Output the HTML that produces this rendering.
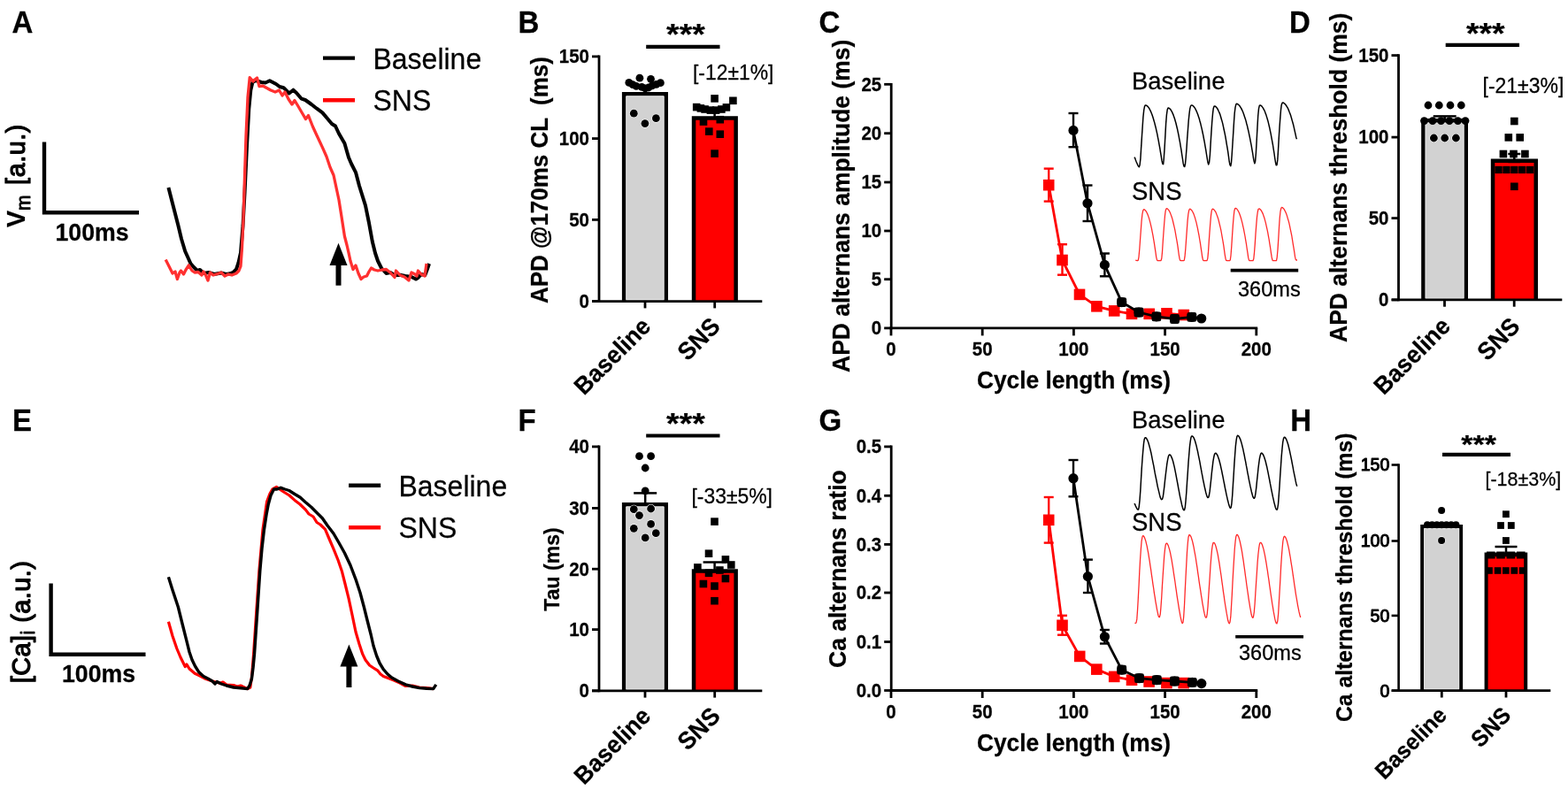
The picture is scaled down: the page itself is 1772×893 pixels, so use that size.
<!DOCTYPE html>
<html lang="en">
<head>
<meta charset="utf-8">
<title>Figure: SNS effects on APD and Ca alternans</title>
<style>
html,body{margin:0;padding:0;background:#fff;}
body{width:1772px;height:893px;overflow:hidden;}
svg{display:block;}
svg text{font-family:"Liberation Sans", sans-serif;fill:#000;stroke:#000;stroke-width:0.25px;stroke-linejoin:round;}
</style>
</head>
<body>
<svg width="1772" height="893" viewBox="0 0 1772 893">
<rect width="1772" height="893" fill="#fff"/>
<text transform="translate(13.5 36.6) scale(1 1.045)" font-size="33" font-weight="bold" text-anchor="start">A</text>
<text transform="translate(585.5 36.6) scale(1 1.045)" font-size="33" font-weight="bold" text-anchor="start">B</text>
<text transform="translate(925.5 36.8) scale(1 1.045)" font-size="33" font-weight="bold" text-anchor="start">C</text>
<text transform="translate(1457 36.6) scale(1 1.045)" font-size="33" font-weight="bold" text-anchor="start">D</text>
<text transform="translate(14 486.6) scale(1 1.045)" font-size="33" font-weight="bold" text-anchor="start">E</text>
<text transform="translate(585.5 486.6) scale(1 1.045)" font-size="33" font-weight="bold" text-anchor="start">F</text>
<text transform="translate(925.5 486.8) scale(1 1.045)" font-size="33" font-weight="bold" text-anchor="start">G</text>
<text transform="translate(1458.3 486.8) scale(1 1.045)" font-size="33" font-weight="bold" text-anchor="start">H</text>
<path d="M50,160.5 V240.2 H157" fill="none" stroke="#000" stroke-width="4.4"/>
<text transform="translate(104 271.5) scale(1 1.035)" font-size="26.7" font-weight="bold" text-anchor="middle">100ms</text>
<text transform="translate(28.4 257) rotate(-90) scale(1 1.035)" font-size="28.6" font-weight="bold">V<tspan font-size="21" dy="5" font-weight="normal" style="stroke-width:1px">m</tspan><tspan dy="-5" dx="3" font-size="28.6" font-weight="normal" letter-spacing="0.6" style="stroke-width:1.25px" xml:space="preserve"> [a.u.)</tspan></text>
<line x1="365" y1="65.6" x2="401" y2="65.6" stroke="#000" stroke-width="4.4" stroke-linecap="butt"/>
<line x1="365" y1="113.3" x2="401" y2="113.3" stroke="#ff0000" stroke-width="4.4" stroke-linecap="butt"/>
<text transform="translate(421.5 77.5) scale(1 1.035)" font-size="32" text-anchor="start">Baseline</text>
<text transform="translate(421.5 125) scale(1 1.045)" font-size="32" text-anchor="start">SNS</text>
<path d="M190.4,212.0 L195.0,230.0 L201.3,254.4 L205.0,270.0 L209.2,284.0 L215.5,298.0 L219.0,302.0 L223.0,306.0 L226.0,305.0 L230.0,309.0 L236.0,308.0 L242.0,310.0 L250.0,308.5 L256.0,310.0 L261.0,309.0 L264.0,307.5 L267.0,304.5 L269.5,297.0 L272.0,285.7 L274.5,255.0 L276.6,216.7 L279.0,165.0 L281.3,122.7 L283.3,102.0 L285.4,93.0 L289.0,91.0 L295.4,93.0 L300.0,93.5 L304.8,91.3 L312.0,95.0 L316.0,98.0 L320.5,99.2 L326.7,105.5 L331.4,101.7 L335.0,105.0 L340.8,111.7 L345.0,113.0 L352.0,118.0 L358.0,122.7 L364.4,127.4 L370.0,134.0 L375.0,140.0 L379.0,142.5 L383.0,151.0 L389.4,162.0 L394.0,178.0 L397.0,185.0 L402.0,194.8 L406.0,210.0 L413.0,232.4 L417.0,252.0 L420.8,273.0 L424.0,286.0 L427.0,295.0 L431.0,303.0 L436.5,309.0 L441.0,308.0 L446.0,311.0 L452.0,310.8 L458.0,312.0 L465.0,313.0 L470.0,315.5 L472.5,314.0 L476.0,310.0 L480.3,311.0 L483.0,304.0 L485.0,298.0" fill="none" stroke="#000" stroke-width="4.0" stroke-linejoin="round" stroke-linecap="butt"/>
<path d="M187.2,293.5 L191.0,301.0 L195.0,309.0 L198.0,307.0 L200.4,315.5 L203.0,308.0 L204.5,306.0 L207.5,310.0 L210.0,305.0 L213.3,299.8 L217.0,306.0 L220.0,308.0 L224.0,307.5 L228.0,311.0 L230.0,307.0 L232.5,311.0 L235.0,317.0 L237.5,308.0 L241.0,311.0 L246.0,309.5 L250.0,308.0 L254.0,312.0 L258.0,310.0 L262.0,311.0 L267.0,309.0 L270.0,306.0 L272.0,301.0 L273.5,280.0 L275.0,248.0 L276.5,200.0 L278.0,154.0 L280.0,110.0 L282.2,87.6 L286.0,92.0 L288.0,90.0 L290.5,88.0 L293.0,97.6 L297.0,97.0 L301.5,99.5 L306.0,102.0 L311.0,104.0 L315.5,102.0 L319.0,108.0 L322.0,104.0 L326.0,112.0 L330.0,118.0 L333.0,113.5 L337.5,121.0 L341.0,127.0 L345.5,134.6 L348.5,130.5 L353.4,143.0 L358.0,153.0 L364.4,166.6 L369.0,177.0 L373.0,189.0 L377.0,198.0 L380.0,212.0 L383.0,226.0 L386.0,245.0 L389.4,267.0 L392.0,277.0 L394.0,285.7 L396.0,295.0 L399.0,304.5 L402.0,300.0 L405.0,309.0 L408.0,315.5 L411.0,313.0 L414.5,312.0 L417.0,307.0 L419.5,303.0 L423.0,305.0 L427.0,306.0 L432.0,305.0 L436.5,304.5 L441.0,308.0 L446.0,313.5 L447.5,306.0 L452.0,311.0 L457.0,313.0 L462.0,317.0 L465.0,308.0 L469.0,310.0 L471.0,312.0 L472.5,306.0 L476.0,310.0 L480.0,312.0 L481.0,305.0 L482.0,298.0" fill="none" stroke="#ff3030" stroke-width="3.3" stroke-linejoin="round" stroke-linecap="butt"/>
<polygon points="382.5,274.7 372.5,300 392.5,300" fill="#000"/>
<rect x="379.5" y="299" width="6" height="23.69999999999999" fill="#000"/>
<path d="M57.6,659.6 V739.7 H164.5" fill="none" stroke="#000" stroke-width="4.4"/>
<text transform="translate(111.5 770.9) scale(1 1.035)" font-size="26.7" font-weight="bold" text-anchor="middle">100ms</text>
<text transform="translate(33.9 772.3) rotate(-90) scale(1 1.01)" font-size="28.8" letter-spacing="0.5" style="stroke-width:1.25px">[Ca]<tspan font-size="21" dy="5" style="stroke-width:1px">i</tspan><tspan dy="-5" xml:space="preserve"> (a.u.)</tspan></text>
<line x1="394.1" y1="548.8" x2="430.2" y2="548.8" stroke="#000" stroke-width="4.4" stroke-linecap="butt"/>
<line x1="394.1" y1="596.2" x2="430.2" y2="596.2" stroke="#ff0000" stroke-width="4.4" stroke-linecap="butt"/>
<text transform="translate(450.5 560.8) scale(1 1.035)" font-size="32" text-anchor="start">Baseline</text>
<text transform="translate(450.5 607.8) scale(1 1.045)" font-size="32" text-anchor="start">SNS</text>
<path d="M190.4,702.7 L195.0,719.0 L199.8,733.0 L204.0,743.0 L209.2,753.5 L211.0,751.0 L214.0,756.0 L220.2,761.3 L226.0,764.0 L232.7,767.6 L240.0,770.0 L248.4,772.3 L252.0,771.0 L256.0,774.0 L264.0,774.5 L268.0,776.0 L272.0,775.0 L279.7,778.6 L282.8,777.0 L284.5,765.0 L286.6,739.4 L289.7,692.4 L292.9,645.4 L297.0,598.4 L301.6,567.0 L305.0,558.0 L308.0,552.9 L312.6,550.4 L316.0,553.0 L320.5,556.0 L327.0,560.0 L333.0,565.4 L339.0,570.0 L345.5,576.4 L349.0,581.0 L354.0,584.0 L358.0,590.5 L362.0,593.0 L367.5,598.4 L372.0,609.0 L376.9,620.3 L382.0,633.0 L386.3,645.4 L390.0,660.0 L394.1,676.7 L398.0,695.0 L402.0,714.3 L406.0,728.0 L409.8,739.4 L413.0,746.0 L417.6,752.0 L422.0,755.0 L427.0,758.2 L430.0,762.0 L433.3,764.5 L440.0,767.0 L445.8,769.2 L452.0,772.0 L458.4,775.5 L466.0,775.0 L474.0,777.0 L482.0,777.5 L489.7,778.6" fill="none" stroke="#ff0000" stroke-width="3.2" stroke-linejoin="round" stroke-linecap="butt"/>
<path d="M190.4,652.3 L195.0,667.0 L201.3,686.0 L206.0,705.0 L210.7,723.7 L214.0,737.0 L217.0,745.7 L220.5,753.0 L224.8,759.8 L230.0,764.5 L235.8,767.6 L240.0,770.0 L243.0,773.0 L245.2,770.5 L250.0,773.0 L256.0,775.0 L264.0,777.0 L272.0,777.8 L279.7,778.6 L282.0,775.0 L284.4,767.6 L286.0,755.0 L287.5,739.4 L290.7,692.4 L293.8,645.4 L296.0,620.0 L298.5,598.4 L301.0,582.0 L303.2,570.2 L306.0,560.0 L309.5,552.9 L313.0,553.0 L317.3,551.3 L322.0,553.0 L326.7,554.5 L333.0,558.5 L339.3,562.3 L345.0,567.5 L351.8,573.3 L358.0,579.5 L364.3,585.8 L370.0,594.0 L376.9,603.0 L383.0,613.5 L389.4,625.0 L396.0,639.0 L402.0,654.8 L407.0,670.0 L411.3,686.0 L415.0,701.0 L419.2,717.5 L422.0,730.0 L425.5,741.0 L429.0,749.5 L433.3,756.6 L438.0,762.0 L442.7,766.0 L450.0,770.0 L458.4,773.9 L466.0,776.0 L474.0,777.6 L482.0,778.3 L489.7,778.6 L492.8,773.9" fill="none" stroke="#000" stroke-width="3.4" stroke-linejoin="round" stroke-linecap="butt"/>
<polygon points="394.4,728.4 384.4,753.5 404.4,753.5" fill="#000"/>
<rect x="391.4" y="752.5" width="6" height="24.5" fill="#000"/>
<path d="M705.15,340.60 V106.15 H752.75 V340.60" fill="#d2d2d2" stroke="#000" stroke-width="4.5" stroke-linejoin="miter"/>
<path d="M707.80,338.80 V108.80 H750.10 V338.80 Z" fill="none" stroke="#ececec" stroke-width="0.9"/>
<path d="M784.05,340.60 V133.55 H831.65 V340.60" fill="#ff0000" stroke="#000" stroke-width="4.5" stroke-linejoin="miter"/>
<line x1="669" y1="340.6" x2="861.3" y2="340.6" stroke="#000" stroke-width="2.8" stroke-linecap="butt"/>
<line x1="677" y1="62.5" x2="677" y2="342.0" stroke="#000" stroke-width="2.8" stroke-linecap="butt"/>
<line x1="669" y1="63.9" x2="677" y2="63.9" stroke="#000" stroke-width="2.8" stroke-linecap="butt"/>
<text transform="translate(666 71.2) scale(1 1.045)" font-size="20.5" font-weight="bold" text-anchor="end">150</text>
<line x1="669" y1="156.6" x2="677" y2="156.6" stroke="#000" stroke-width="2.8" stroke-linecap="butt"/>
<text transform="translate(666 163.9) scale(1 1.045)" font-size="20.5" font-weight="bold" text-anchor="end">100</text>
<line x1="669" y1="248.4" x2="677" y2="248.4" stroke="#000" stroke-width="2.8" stroke-linecap="butt"/>
<text transform="translate(666 255.70000000000002) scale(1 1.045)" font-size="20.5" font-weight="bold" text-anchor="end">50</text>
<line x1="669" y1="340.6" x2="677" y2="340.6" stroke="#000" stroke-width="2.8" stroke-linecap="butt"/>
<text transform="translate(666 347.90000000000003) scale(1 1.045)" font-size="20.5" font-weight="bold" text-anchor="end">0</text>
<line x1="729" y1="340.6" x2="729" y2="348.40000000000003" stroke="#000" stroke-width="2.8" stroke-linecap="butt"/>
<line x1="807.7" y1="340.6" x2="807.7" y2="348.40000000000003" stroke="#000" stroke-width="2.8" stroke-linecap="butt"/>
<text transform="translate(737 370.6) rotate(-45) scale(1 1.035)" font-size="26.5" font-weight="bold" text-anchor="end">Baseline</text>
<text transform="translate(815.5 370.6) rotate(-45) scale(1 1.045)" font-size="26.5" font-weight="bold" text-anchor="end">SNS</text>
<text transform="translate(619 343) rotate(-90) scale(1 1.035)" font-size="26" font-weight="bold" text-anchor="start" xml:space="preserve">APD @170ms CL  (ms)</text>
<text transform="translate(774.9 50.3) scale(1.133 1)" font-size="33" font-weight="bold" text-anchor="middle">***</text>
<line x1="730.2" y1="52.8" x2="813.5" y2="52.8" stroke="#000" stroke-width="4.2" stroke-linecap="butt"/>
<text transform="translate(783 90) scale(1 1.045)" font-size="22.9" text-anchor="start">[-12±1%]</text>
<line x1="729" y1="99.5" x2="729" y2="108" stroke="#000" stroke-width="2.5" stroke-linecap="butt"/>
<line x1="729.0" y1="99.5" x2="729.0" y2="99.5" stroke="#000" stroke-width="2.5" stroke-linecap="butt"/>
<line x1="729.0" y1="108" x2="729.0" y2="108" stroke="#000" stroke-width="2.5" stroke-linecap="butt"/>
<line x1="807.6" y1="127.5" x2="807.6" y2="135" stroke="#000" stroke-width="2.5" stroke-linecap="butt"/>
<line x1="807.6" y1="127.5" x2="807.6" y2="127.5" stroke="#000" stroke-width="2.5" stroke-linecap="butt"/>
<line x1="807.6" y1="135" x2="807.6" y2="135" stroke="#000" stroke-width="2.5" stroke-linecap="butt"/>
<circle cx="710.8" cy="93.4" r="4.4" fill="#000"/>
<circle cx="715.0" cy="95.7" r="4.4" fill="#000"/>
<circle cx="719.0" cy="97.3" r="4.4" fill="#000"/>
<circle cx="722.9" cy="88.2" r="4.4" fill="#000"/>
<circle cx="725.3" cy="98.4" r="4.4" fill="#000"/>
<circle cx="729.2" cy="100.0" r="4.4" fill="#000"/>
<circle cx="733.0" cy="99.0" r="4.4" fill="#000"/>
<circle cx="735.5" cy="89.3" r="4.4" fill="#000"/>
<circle cx="737.0" cy="96.8" r="4.4" fill="#000"/>
<circle cx="741.7" cy="95.3" r="4.4" fill="#000"/>
<circle cx="746.4" cy="93.7" r="4.4" fill="#000"/>
<circle cx="716.3" cy="128.2" r="4.4" fill="#000" stroke="#fff" stroke-width="1.3" paint-order="stroke"/>
<circle cx="728.9" cy="139.6" r="4.4" fill="#000" stroke="#fff" stroke-width="1.3" paint-order="stroke"/>
<circle cx="741.4" cy="133.7" r="4.4" fill="#000" stroke="#fff" stroke-width="1.3" paint-order="stroke"/>
<rect x="803.3" y="107.1" width="8.6" height="8.6" fill="#000"/>
<rect x="824.1" y="109.5" width="8.6" height="8.6" fill="#000"/>
<rect x="782.9" y="116.8" width="8.6" height="8.6" fill="#000"/>
<rect x="787.6" y="118.1" width="8.6" height="8.6" fill="#000"/>
<rect x="792.3" y="119.2" width="8.6" height="8.6" fill="#000"/>
<rect x="798.6" y="120.3" width="8.6" height="8.6" fill="#000"/>
<rect x="804.8" y="120.3" width="8.6" height="8.6" fill="#000"/>
<rect x="811.1" y="119.2" width="8.6" height="8.6" fill="#000"/>
<rect x="816.6" y="117.1" width="8.6" height="8.6" fill="#000"/>
<rect x="790.7" y="133.3" width="8.6" height="8.6" fill="#000"/>
<rect x="809.5" y="130.9" width="8.6" height="8.6" fill="#000"/>
<rect x="797.0" y="144.3" width="8.6" height="8.6" fill="#000"/>
<rect x="809.5" y="147.4" width="8.6" height="8.6" fill="#000"/>
<rect x="803.3" y="169.3" width="8.6" height="8.6" fill="#000"/>
<path d="M705.15,780.80 V570.25 H752.75 V780.80" fill="#d2d2d2" stroke="#000" stroke-width="4.5" stroke-linejoin="miter"/>
<path d="M707.80,779.00 V572.90 H750.10 V779.00 Z" fill="none" stroke="#ececec" stroke-width="0.9"/>
<path d="M784.05,780.80 V645.45 H831.65 V780.80" fill="#ff0000" stroke="#000" stroke-width="4.5" stroke-linejoin="miter"/>
<line x1="669" y1="780.8" x2="861.3" y2="780.8" stroke="#000" stroke-width="2.8" stroke-linecap="butt"/>
<line x1="677" y1="503.5" x2="677" y2="782.1999999999999" stroke="#000" stroke-width="2.8" stroke-linecap="butt"/>
<line x1="669" y1="504.9" x2="677" y2="504.9" stroke="#000" stroke-width="2.8" stroke-linecap="butt"/>
<text transform="translate(666 512.1999999999999) scale(1 1.045)" font-size="20.5" font-weight="bold" text-anchor="end">40</text>
<line x1="669" y1="574.4" x2="677" y2="574.4" stroke="#000" stroke-width="2.8" stroke-linecap="butt"/>
<text transform="translate(666 581.6999999999999) scale(1 1.045)" font-size="20.5" font-weight="bold" text-anchor="end">30</text>
<line x1="669" y1="643.2" x2="677" y2="643.2" stroke="#000" stroke-width="2.8" stroke-linecap="butt"/>
<text transform="translate(666 650.5) scale(1 1.045)" font-size="20.5" font-weight="bold" text-anchor="end">20</text>
<line x1="669" y1="711.6" x2="677" y2="711.6" stroke="#000" stroke-width="2.8" stroke-linecap="butt"/>
<text transform="translate(666 718.9) scale(1 1.045)" font-size="20.5" font-weight="bold" text-anchor="end">10</text>
<line x1="669" y1="780.8" x2="677" y2="780.8" stroke="#000" stroke-width="2.8" stroke-linecap="butt"/>
<text transform="translate(666 788.0999999999999) scale(1 1.045)" font-size="20.5" font-weight="bold" text-anchor="end">0</text>
<line x1="729" y1="780.8" x2="729" y2="788.5999999999999" stroke="#000" stroke-width="2.8" stroke-linecap="butt"/>
<line x1="807.7" y1="780.8" x2="807.7" y2="788.5999999999999" stroke="#000" stroke-width="2.8" stroke-linecap="butt"/>
<text transform="translate(737 811.1) rotate(-45) scale(1 1.035)" font-size="26.5" font-weight="bold" text-anchor="end">Baseline</text>
<text transform="translate(815.5 811.1) rotate(-45) scale(1 1.045)" font-size="26.5" font-weight="bold" text-anchor="end">SNS</text>
<text transform="translate(632.2 690.7) rotate(-90) scale(1 1.035)" font-size="23.1" font-weight="bold" text-anchor="start">Tau (ms)</text>
<text transform="translate(774.9 490) scale(1.133 1)" font-size="33" font-weight="bold" text-anchor="middle">***</text>
<line x1="730.2" y1="492.5" x2="813.5" y2="492.5" stroke="#000" stroke-width="4.2" stroke-linecap="butt"/>
<text transform="translate(781.5 568.5) scale(1 1.045)" font-size="22.9" text-anchor="start">[-33±5%]</text>
<line x1="729.2" y1="557.4" x2="729.2" y2="570" stroke="#000" stroke-width="2.5" stroke-linecap="butt"/>
<line x1="716.2" y1="557.4" x2="742.2" y2="557.4" stroke="#000" stroke-width="2.5" stroke-linecap="butt"/>
<line x1="716.2" y1="570" x2="742.2" y2="570" stroke="#000" stroke-width="2.5" stroke-linecap="butt"/>
<line x1="807.6" y1="635.5" x2="807.6" y2="646" stroke="#000" stroke-width="2.5" stroke-linecap="butt"/>
<line x1="794.6" y1="635.5" x2="820.6" y2="635.5" stroke="#000" stroke-width="2.5" stroke-linecap="butt"/>
<line x1="794.6" y1="646" x2="820.6" y2="646" stroke="#000" stroke-width="2.5" stroke-linecap="butt"/>
<circle cx="722.5" cy="515.7" r="4.4" fill="#000"/>
<circle cx="735.6" cy="515.7" r="4.4" fill="#000"/>
<circle cx="729.2" cy="529.0" r="4.4" fill="#000"/>
<circle cx="729.2" cy="554.8" r="4.4" fill="#000"/>
<circle cx="716.3" cy="575.7" r="4.4" fill="#000" stroke="#fff" stroke-width="1.3" paint-order="stroke"/>
<circle cx="735.6" cy="575.0" r="4.4" fill="#000" stroke="#fff" stroke-width="1.3" paint-order="stroke"/>
<circle cx="722.5" cy="582.6" r="4.4" fill="#000" stroke="#fff" stroke-width="1.3" paint-order="stroke"/>
<circle cx="735.6" cy="592.4" r="4.4" fill="#000" stroke="#fff" stroke-width="1.3" paint-order="stroke"/>
<circle cx="716.3" cy="597.3" r="4.4" fill="#000" stroke="#fff" stroke-width="1.3" paint-order="stroke"/>
<circle cx="741.3" cy="602.7" r="4.4" fill="#000" stroke="#fff" stroke-width="1.3" paint-order="stroke"/>
<circle cx="729.2" cy="607.9" r="4.4" fill="#000" stroke="#fff" stroke-width="1.3" paint-order="stroke"/>
<rect x="803.2" y="585.3" width="8.6" height="8.6" fill="#000"/>
<rect x="796.7" y="621.4" width="8.6" height="8.6" fill="#000"/>
<rect x="815.6" y="628.1" width="8.6" height="8.6" fill="#000"/>
<rect x="822.0" y="634.2" width="8.6" height="8.6" fill="#000"/>
<rect x="784.1" y="637.1" width="8.6" height="8.6" fill="#000"/>
<rect x="809.1" y="640.2" width="8.6" height="8.6" fill="#000"/>
<rect x="796.7" y="643.5" width="8.6" height="8.6" fill="#000"/>
<rect x="815.6" y="649.7" width="8.6" height="8.6" fill="#000"/>
<rect x="790.6" y="655.7" width="8.6" height="8.6" fill="#000"/>
<rect x="803.2" y="658.2" width="8.6" height="8.6" fill="#000"/>
<rect x="803.2" y="674.9" width="8.6" height="8.6" fill="#000"/>
<path d="M1608.45,338.90 V136.25 H1656.75 V338.90" fill="#d2d2d2" stroke="#000" stroke-width="4.5" stroke-linejoin="miter"/>
<path d="M1611.10,337.10 V138.90 H1654.10 V337.10 Z" fill="none" stroke="#ececec" stroke-width="0.9"/>
<path d="M1687.05,338.90 V181.85 H1735.75 V338.90" fill="#ff0000" stroke="#000" stroke-width="4.5" stroke-linejoin="miter"/>
<line x1="1572.7" y1="338.9" x2="1765.3" y2="338.9" stroke="#000" stroke-width="2.8" stroke-linecap="butt"/>
<line x1="1580.5" y1="61.2" x2="1580.5" y2="340.29999999999995" stroke="#000" stroke-width="2.8" stroke-linecap="butt"/>
<line x1="1572.5" y1="62.6" x2="1580.5" y2="62.6" stroke="#000" stroke-width="2.8" stroke-linecap="butt"/>
<text transform="translate(1569.5 69.9) scale(1 1.045)" font-size="20.5" font-weight="bold" text-anchor="end">150</text>
<line x1="1572.5" y1="155.1" x2="1580.5" y2="155.1" stroke="#000" stroke-width="2.8" stroke-linecap="butt"/>
<text transform="translate(1569.5 162.4) scale(1 1.045)" font-size="20.5" font-weight="bold" text-anchor="end">100</text>
<line x1="1572.5" y1="246.6" x2="1580.5" y2="246.6" stroke="#000" stroke-width="2.8" stroke-linecap="butt"/>
<text transform="translate(1569.5 253.9) scale(1 1.045)" font-size="20.5" font-weight="bold" text-anchor="end">50</text>
<line x1="1572.5" y1="338.9" x2="1580.5" y2="338.9" stroke="#000" stroke-width="2.8" stroke-linecap="butt"/>
<text transform="translate(1569.5 346.2) scale(1 1.045)" font-size="20.5" font-weight="bold" text-anchor="end">0</text>
<line x1="1632.5" y1="338.9" x2="1632.5" y2="346.7" stroke="#000" stroke-width="2.8" stroke-linecap="butt"/>
<line x1="1711.2" y1="338.9" x2="1711.2" y2="346.7" stroke="#000" stroke-width="2.8" stroke-linecap="butt"/>
<text transform="translate(1640.7 370.4) rotate(-45) scale(1 1.035)" font-size="26.5" font-weight="bold" text-anchor="end">Baseline</text>
<text transform="translate(1719.2 370.4) rotate(-45) scale(1 1.045)" font-size="26.5" font-weight="bold" text-anchor="end">SNS</text>
<text transform="translate(1522.3 387) rotate(-90) scale(1 1.035)" font-size="26.5" font-weight="bold" text-anchor="start">APD alternans threshold (ms)</text>
<text transform="translate(1678.7 48.5) scale(1.133 1)" font-size="33" font-weight="bold" text-anchor="middle">***</text>
<line x1="1633.7" y1="50.8" x2="1717" y2="50.8" stroke="#000" stroke-width="4.2" stroke-linecap="butt"/>
<text transform="translate(1675.5 105.3) scale(1 1.045)" font-size="23" text-anchor="start">[-21±3%]</text>
<line x1="1632.7" y1="131.4" x2="1632.7" y2="137" stroke="#000" stroke-width="2.5" stroke-linecap="butt"/>
<line x1="1619.7" y1="131.4" x2="1645.7" y2="131.4" stroke="#000" stroke-width="2.5" stroke-linecap="butt"/>
<line x1="1619.7" y1="137" x2="1645.7" y2="137" stroke="#000" stroke-width="2.5" stroke-linecap="butt"/>
<line x1="1711.3" y1="174" x2="1711.3" y2="183" stroke="#000" stroke-width="2.5" stroke-linecap="butt"/>
<line x1="1704.3" y1="174" x2="1718.3" y2="174" stroke="#000" stroke-width="2.5" stroke-linecap="butt"/>
<line x1="1704.3" y1="183" x2="1718.3" y2="183" stroke="#000" stroke-width="2.5" stroke-linecap="butt"/>
<circle cx="1614.0" cy="119.0" r="4.4" fill="#000"/>
<circle cx="1626.3" cy="119.0" r="4.4" fill="#000"/>
<circle cx="1639.0" cy="119.0" r="4.4" fill="#000"/>
<circle cx="1651.3" cy="119.0" r="4.4" fill="#000"/>
<circle cx="1609.5" cy="136.6" r="4.4" fill="#000"/>
<circle cx="1619.0" cy="136.6" r="4.4" fill="#000"/>
<circle cx="1628.5" cy="136.6" r="4.4" fill="#000"/>
<circle cx="1638.0" cy="136.6" r="4.4" fill="#000"/>
<circle cx="1647.5" cy="136.6" r="4.4" fill="#000"/>
<circle cx="1656.0" cy="136.6" r="4.4" fill="#000"/>
<circle cx="1620.4" cy="156.0" r="4.4" fill="#000" stroke="#fff" stroke-width="1.3" paint-order="stroke"/>
<circle cx="1632.7" cy="156.0" r="4.4" fill="#000" stroke="#fff" stroke-width="1.3" paint-order="stroke"/>
<circle cx="1645.4" cy="156.0" r="4.4" fill="#000" stroke="#fff" stroke-width="1.3" paint-order="stroke"/>
<rect x="1707.0" y="132.7" width="8.6" height="8.6" fill="#000"/>
<rect x="1700.5" y="151.1" width="8.6" height="8.6" fill="#000"/>
<rect x="1713.4" y="151.1" width="8.6" height="8.6" fill="#000"/>
<rect x="1694.6" y="169.7" width="8.6" height="8.6" fill="#000"/>
<rect x="1706.2" y="169.7" width="8.6" height="8.6" fill="#000"/>
<rect x="1719.1" y="169.7" width="8.6" height="8.6" fill="#000"/>
<rect x="1707.0" y="206.5" width="8.6" height="8.6" fill="#000"/>
<rect x="1689.4" y="187.8" width="8.3" height="8.3" fill="#000"/>
<rect x="1698.3" y="187.8" width="8.3" height="8.3" fill="#000"/>
<rect x="1707.2" y="187.8" width="8.3" height="8.3" fill="#000"/>
<rect x="1716.1" y="187.8" width="8.3" height="8.3" fill="#000"/>
<rect x="1725.0" y="187.8" width="8.3" height="8.3" fill="#000"/>
<path d="M1607.20,780.70 V595.00 H1651.10 V780.70" fill="#d2d2d2" stroke="#000" stroke-width="4.0" stroke-linejoin="miter"/>
<path d="M1609.60,778.90 V597.40 H1648.70 V778.90 Z" fill="none" stroke="#ececec" stroke-width="0.9"/>
<path d="M1679.60,780.70 V626.40 H1724.20 V780.70" fill="#ff0000" stroke="#000" stroke-width="4.0" stroke-linejoin="miter"/>
<line x1="1572.7" y1="780.7" x2="1752.3" y2="780.7" stroke="#000" stroke-width="2.8" stroke-linecap="butt"/>
<line x1="1580.6" y1="524.2" x2="1580.6" y2="782.0" stroke="#000" stroke-width="2.6" stroke-linecap="butt"/>
<line x1="1572.6" y1="525.5" x2="1580.6" y2="525.5" stroke="#000" stroke-width="2.6" stroke-linecap="butt"/>
<text transform="translate(1570.3999999999999 532.479512195122) scale(1 1.045)" font-size="19.6" text-anchor="end" style="stroke-width:1px">150</text>
<line x1="1572.6" y1="611.5" x2="1580.6" y2="611.5" stroke="#000" stroke-width="2.6" stroke-linecap="butt"/>
<text transform="translate(1570.3999999999999 618.479512195122) scale(1 1.045)" font-size="19.6" text-anchor="end" style="stroke-width:1px">100</text>
<line x1="1572.6" y1="695.9" x2="1580.6" y2="695.9" stroke="#000" stroke-width="2.6" stroke-linecap="butt"/>
<text transform="translate(1570.3999999999999 702.879512195122) scale(1 1.045)" font-size="19.6" text-anchor="end" style="stroke-width:1px">50</text>
<line x1="1572.6" y1="780.7" x2="1580.6" y2="780.7" stroke="#000" stroke-width="2.6" stroke-linecap="butt"/>
<text transform="translate(1570.3999999999999 787.679512195122) scale(1 1.045)" font-size="19.6" text-anchor="end" style="stroke-width:1px">0</text>
<line x1="1629.3" y1="780.7" x2="1629.3" y2="788.5" stroke="#000" stroke-width="2.8" stroke-linecap="butt"/>
<line x1="1702" y1="780.7" x2="1702" y2="788.5" stroke="#000" stroke-width="2.8" stroke-linecap="butt"/>
<text transform="translate(1636.5 810.1) rotate(-45) scale(1 1.035)" font-size="24.8" font-weight="bold" text-anchor="end">Baseline</text>
<text transform="translate(1709 810.1) rotate(-45) scale(1 1.045)" font-size="24.8" font-weight="bold" text-anchor="end">SNS</text>
<text transform="translate(1527.8 816) rotate(-90) scale(1 1.035)" font-size="24.7" font-weight="bold" text-anchor="start">Ca alternans threshold (ms)</text>
<text transform="translate(1671.2 511.7) scale(1.133 1)" font-size="30" font-weight="bold" text-anchor="middle">***</text>
<line x1="1630" y1="513.9" x2="1707" y2="513.9" stroke="#000" stroke-width="4.2" stroke-linecap="butt"/>
<text transform="translate(1678.5 549.2) scale(1 1.045)" font-size="21.5" text-anchor="start">[-18±3%]</text>
<line x1="1702" y1="618" x2="1702" y2="628" stroke="#000" stroke-width="2.5" stroke-linecap="butt"/>
<line x1="1689.5" y1="618" x2="1714.5" y2="618" stroke="#000" stroke-width="2.5" stroke-linecap="butt"/>
<line x1="1689.5" y1="628" x2="1714.5" y2="628" stroke="#000" stroke-width="2.5" stroke-linecap="butt"/>
<circle cx="1629.1" cy="576.9" r="4.0" fill="#000"/>
<circle cx="1613.0" cy="593.3" r="4.0" fill="#000"/>
<circle cx="1618.4" cy="593.3" r="4.0" fill="#000"/>
<circle cx="1623.8" cy="593.3" r="4.0" fill="#000"/>
<circle cx="1629.2" cy="593.3" r="4.0" fill="#000"/>
<circle cx="1634.6" cy="593.3" r="4.0" fill="#000"/>
<circle cx="1640.0" cy="593.3" r="4.0" fill="#000"/>
<circle cx="1645.4" cy="593.3" r="4.0" fill="#000"/>
<circle cx="1629.1" cy="611.0" r="4.0" fill="#000" stroke="#fff" stroke-width="1.3" paint-order="stroke"/>
<rect x="1698.0" y="577.3" width="7.8" height="7.8" fill="#000"/>
<rect x="1692.1" y="590.1" width="7.8" height="7.8" fill="#000"/>
<rect x="1703.9" y="590.1" width="7.8" height="7.8" fill="#000"/>
<rect x="1698.0" y="607.1" width="7.8" height="7.8" fill="#000"/>
<rect x="1680.0" y="623.5" width="9.6" height="8" fill="#000"/>
<rect x="1691.2" y="623.5" width="9.6" height="8" fill="#000"/>
<rect x="1702.6" y="623.5" width="9.6" height="8" fill="#000"/>
<rect x="1714.0" y="623.5" width="9.6" height="8" fill="#000"/>
<rect x="1679.2" y="641.2" width="7.6" height="7.6" fill="#000"/>
<rect x="1688.8" y="641.2" width="7.6" height="7.6" fill="#000"/>
<rect x="1698.0" y="641.2" width="7.6" height="7.6" fill="#000"/>
<rect x="1707.5" y="641.2" width="7.6" height="7.6" fill="#000"/>
<rect x="1716.8" y="641.2" width="7.6" height="7.6" fill="#000"/>
<path d="M1185.2,209.2 L1200.5,294.0 L1220.0,332.9 L1239.4,346.3 L1259.2,351.4 L1279.0,354.8 L1298.7,354.8 L1318.5,354.3 L1337.8,356.0" fill="none" stroke="#ff0000" stroke-width="2.8" stroke-linejoin="round" stroke-linecap="butt"/>
<line x1="1185.2" y1="190.6" x2="1185.2" y2="227.6" stroke="#ff0000" stroke-width="2.4" stroke-linecap="butt"/>
<line x1="1179.7" y1="190.6" x2="1190.7" y2="190.6" stroke="#ff0000" stroke-width="2.4" stroke-linecap="butt"/>
<line x1="1179.7" y1="227.6" x2="1190.7" y2="227.6" stroke="#ff0000" stroke-width="2.4" stroke-linecap="butt"/>
<line x1="1200.5" y1="276.2" x2="1200.5" y2="310.7" stroke="#ff0000" stroke-width="2.4" stroke-linecap="butt"/>
<line x1="1195.0" y1="276.2" x2="1206.0" y2="276.2" stroke="#ff0000" stroke-width="2.4" stroke-linecap="butt"/>
<line x1="1195.0" y1="310.7" x2="1206.0" y2="310.7" stroke="#ff0000" stroke-width="2.4" stroke-linecap="butt"/>
<rect x="1178.9" y="202.9" width="12.6" height="12.6" fill="#ff0000"/>
<rect x="1194.2" y="287.7" width="12.6" height="12.6" fill="#ff0000"/>
<rect x="1213.7" y="326.6" width="12.6" height="12.6" fill="#ff0000"/>
<rect x="1233.1" y="340.0" width="12.6" height="12.6" fill="#ff0000"/>
<rect x="1252.9" y="345.1" width="12.6" height="12.6" fill="#ff0000"/>
<rect x="1272.7" y="348.5" width="12.6" height="12.6" fill="#ff0000"/>
<rect x="1292.4" y="348.5" width="12.6" height="12.6" fill="#ff0000"/>
<rect x="1312.2" y="348.0" width="12.6" height="12.6" fill="#ff0000"/>
<rect x="1331.5" y="349.7" width="12.6" height="12.6" fill="#ff0000"/>
<path d="M1213.0,147.4 L1229.0,229.8 L1248.4,299.4 L1267.7,341.6 L1287.0,353.0 L1306.9,357.9 L1327.5,360.5 L1346.8,358.4 L1357.7,360.0" fill="none" stroke="#000" stroke-width="2.8" stroke-linejoin="round" stroke-linecap="butt"/>
<line x1="1213" y1="128" x2="1213" y2="166.2" stroke="#000" stroke-width="2.4" stroke-linecap="butt"/>
<line x1="1207.5" y1="128" x2="1218.5" y2="128" stroke="#000" stroke-width="2.4" stroke-linecap="butt"/>
<line x1="1207.5" y1="166.2" x2="1218.5" y2="166.2" stroke="#000" stroke-width="2.4" stroke-linecap="butt"/>
<line x1="1229" y1="209.5" x2="1229" y2="250" stroke="#000" stroke-width="2.4" stroke-linecap="butt"/>
<line x1="1223.5" y1="209.5" x2="1234.5" y2="209.5" stroke="#000" stroke-width="2.4" stroke-linecap="butt"/>
<line x1="1223.5" y1="250" x2="1234.5" y2="250" stroke="#000" stroke-width="2.4" stroke-linecap="butt"/>
<line x1="1248.4" y1="286.5" x2="1248.4" y2="312.3" stroke="#000" stroke-width="2.4" stroke-linecap="butt"/>
<line x1="1242.9" y1="286.5" x2="1253.9" y2="286.5" stroke="#000" stroke-width="2.4" stroke-linecap="butt"/>
<line x1="1242.9" y1="312.3" x2="1253.9" y2="312.3" stroke="#000" stroke-width="2.4" stroke-linecap="butt"/>
<circle cx="1213.0" cy="147.4" r="5.6" fill="#000"/>
<circle cx="1229.0" cy="229.8" r="5.6" fill="#000"/>
<circle cx="1248.4" cy="299.4" r="5.6" fill="#000"/>
<circle cx="1267.7" cy="341.6" r="5.6" fill="#000"/>
<circle cx="1287.0" cy="353.0" r="5.6" fill="#000"/>
<circle cx="1306.9" cy="357.9" r="5.6" fill="#000"/>
<circle cx="1327.5" cy="360.5" r="5.6" fill="#000"/>
<circle cx="1346.8" cy="358.4" r="5.6" fill="#000"/>
<circle cx="1357.7" cy="360.0" r="5.6" fill="#000"/>
<rect x="1262.3" y="336.2" width="10.8" height="10.8" rx="2.2" fill="#000"/>
<rect x="1281.6" y="347.6" width="10.8" height="10.8" rx="2.2" fill="#000"/>
<rect x="1301.5" y="352.5" width="10.8" height="10.8" rx="2.2" fill="#000"/>
<rect x="1322.1" y="355.1" width="10.8" height="10.8" rx="2.2" fill="#000"/>
<rect x="1341.4" y="353.0" width="10.8" height="10.8" rx="2.2" fill="#000"/>
<line x1="1007.2" y1="93.89999999999999" x2="1007.2" y2="372.29999999999995" stroke="#000" stroke-width="2.8" stroke-linecap="butt"/>
<line x1="999.2" y1="95.3" x2="1007.2" y2="95.3" stroke="#000" stroke-width="2.8" stroke-linecap="butt"/>
<text transform="translate(996.2 102.6) scale(1 1.045)" font-size="20.5" font-weight="bold" text-anchor="end">25</text>
<line x1="999.2" y1="150.7" x2="1007.2" y2="150.7" stroke="#000" stroke-width="2.8" stroke-linecap="butt"/>
<text transform="translate(996.2 158.0) scale(1 1.045)" font-size="20.5" font-weight="bold" text-anchor="end">20</text>
<line x1="999.2" y1="206" x2="1007.2" y2="206" stroke="#000" stroke-width="2.8" stroke-linecap="butt"/>
<text transform="translate(996.2 213.3) scale(1 1.045)" font-size="20.5" font-weight="bold" text-anchor="end">15</text>
<line x1="999.2" y1="261" x2="1007.2" y2="261" stroke="#000" stroke-width="2.8" stroke-linecap="butt"/>
<text transform="translate(996.2 268.3) scale(1 1.045)" font-size="20.5" font-weight="bold" text-anchor="end">10</text>
<line x1="999.2" y1="315.7" x2="1007.2" y2="315.7" stroke="#000" stroke-width="2.8" stroke-linecap="butt"/>
<text transform="translate(996.2 323.0) scale(1 1.045)" font-size="20.5" font-weight="bold" text-anchor="end">5</text>
<line x1="999.2" y1="370.9" x2="1007.2" y2="370.9" stroke="#000" stroke-width="2.8" stroke-linecap="butt"/>
<text transform="translate(996.2 378.2) scale(1 1.045)" font-size="20.5" font-weight="bold" text-anchor="end">0</text>
<line x1="1005.6" y1="370.9" x2="1421.2" y2="370.9" stroke="#000" stroke-width="2.8" stroke-linecap="butt"/>
<line x1="1007.0" y1="370.9" x2="1007.0" y2="379.4" stroke="#000" stroke-width="2.8" stroke-linecap="butt"/>
<text transform="translate(1007.0 402.4) scale(1 1.045)" font-size="20.5" font-weight="bold" text-anchor="middle">0</text>
<line x1="1110.2" y1="370.9" x2="1110.2" y2="379.4" stroke="#000" stroke-width="2.8" stroke-linecap="butt"/>
<text transform="translate(1110.2 402.4) scale(1 1.045)" font-size="20.5" font-weight="bold" text-anchor="middle">50</text>
<line x1="1213.4" y1="370.9" x2="1213.4" y2="379.4" stroke="#000" stroke-width="2.8" stroke-linecap="butt"/>
<text transform="translate(1213.4 402.4) scale(1 1.045)" font-size="20.5" font-weight="bold" text-anchor="middle">100</text>
<line x1="1316.6" y1="370.9" x2="1316.6" y2="379.4" stroke="#000" stroke-width="2.8" stroke-linecap="butt"/>
<text transform="translate(1316.6 402.4) scale(1 1.045)" font-size="20.5" font-weight="bold" text-anchor="middle">150</text>
<line x1="1419.8" y1="370.9" x2="1419.8" y2="379.4" stroke="#000" stroke-width="2.8" stroke-linecap="butt"/>
<text transform="translate(1419.8 402.4) scale(1 1.045)" font-size="20.5" font-weight="bold" text-anchor="middle">200</text>
<text transform="translate(1213.5 438.6) scale(1 1.035)" font-size="26.3" font-weight="bold" text-anchor="middle">Cycle length (ms)</text>
<text transform="translate(960.3 420.9) rotate(-90) scale(1 1.035)" font-size="26.45" font-weight="bold" text-anchor="start">APD alternans amplitude (ms)</text>
<text transform="translate(1279 100.5) scale(1 1.035)" font-size="27.5" text-anchor="start">Baseline</text>
<text transform="translate(1279 226.2) scale(1 1.045)" font-size="27.5" text-anchor="start">SNS</text>
<line x1="1390.7" y1="305.6" x2="1467.2" y2="305.6" stroke="#000" stroke-width="3.6" stroke-linecap="butt"/>
<text transform="translate(1434.3 335.1) scale(1 1.035)" font-size="23.6" text-anchor="middle">360ms</text>
<path d="M1185.2,587.8 L1200.5,706.8 L1220.2,741.9 L1239.3,756.6 L1259.2,764.9 L1279.0,768.7 L1298.6,770.5 L1318.4,772.1 L1337.7,772.1" fill="none" stroke="#ff0000" stroke-width="2.8" stroke-linejoin="round" stroke-linecap="butt"/>
<line x1="1185.2" y1="562" x2="1185.2" y2="613.6" stroke="#ff0000" stroke-width="2.4" stroke-linecap="butt"/>
<line x1="1179.7" y1="562" x2="1190.7" y2="562" stroke="#ff0000" stroke-width="2.4" stroke-linecap="butt"/>
<line x1="1179.7" y1="613.6" x2="1190.7" y2="613.6" stroke="#ff0000" stroke-width="2.4" stroke-linecap="butt"/>
<line x1="1200.5" y1="695.8" x2="1200.5" y2="717.7" stroke="#ff0000" stroke-width="2.4" stroke-linecap="butt"/>
<line x1="1195.0" y1="695.8" x2="1206.0" y2="695.8" stroke="#ff0000" stroke-width="2.4" stroke-linecap="butt"/>
<line x1="1195.0" y1="717.7" x2="1206.0" y2="717.7" stroke="#ff0000" stroke-width="2.4" stroke-linecap="butt"/>
<rect x="1178.9" y="581.5" width="12.6" height="12.6" fill="#ff0000"/>
<rect x="1194.2" y="700.5" width="12.6" height="12.6" fill="#ff0000"/>
<rect x="1213.9" y="735.6" width="12.6" height="12.6" fill="#ff0000"/>
<rect x="1233.0" y="750.3" width="12.6" height="12.6" fill="#ff0000"/>
<rect x="1252.9" y="758.6" width="12.6" height="12.6" fill="#ff0000"/>
<rect x="1272.7" y="762.4" width="12.6" height="12.6" fill="#ff0000"/>
<rect x="1292.3" y="764.2" width="12.6" height="12.6" fill="#ff0000"/>
<rect x="1312.1" y="765.8" width="12.6" height="12.6" fill="#ff0000"/>
<rect x="1331.4" y="765.8" width="12.6" height="12.6" fill="#ff0000"/>
<path d="M1213.0,540.7 L1229.4,651.6 L1248.4,719.8 L1267.7,757.1 L1287.5,766.7 L1307.3,768.7 L1327.4,770.0 L1347.3,771.3 L1357.8,772.6" fill="none" stroke="#000" stroke-width="2.8" stroke-linejoin="round" stroke-linecap="butt"/>
<line x1="1213" y1="520" x2="1213" y2="561.3" stroke="#000" stroke-width="2.4" stroke-linecap="butt"/>
<line x1="1207.5" y1="520" x2="1218.5" y2="520" stroke="#000" stroke-width="2.4" stroke-linecap="butt"/>
<line x1="1207.5" y1="561.3" x2="1218.5" y2="561.3" stroke="#000" stroke-width="2.4" stroke-linecap="butt"/>
<line x1="1229.4" y1="632.6" x2="1229.4" y2="670" stroke="#000" stroke-width="2.4" stroke-linecap="butt"/>
<line x1="1223.9" y1="632.6" x2="1234.9" y2="632.6" stroke="#000" stroke-width="2.4" stroke-linecap="butt"/>
<line x1="1223.9" y1="670" x2="1234.9" y2="670" stroke="#000" stroke-width="2.4" stroke-linecap="butt"/>
<line x1="1248.4" y1="712" x2="1248.4" y2="727.5" stroke="#000" stroke-width="2.4" stroke-linecap="butt"/>
<line x1="1242.9" y1="712" x2="1253.9" y2="712" stroke="#000" stroke-width="2.4" stroke-linecap="butt"/>
<line x1="1242.9" y1="727.5" x2="1253.9" y2="727.5" stroke="#000" stroke-width="2.4" stroke-linecap="butt"/>
<circle cx="1213.0" cy="540.7" r="5.6" fill="#000"/>
<circle cx="1229.4" cy="651.6" r="5.6" fill="#000"/>
<circle cx="1248.4" cy="719.8" r="5.6" fill="#000"/>
<circle cx="1267.7" cy="757.1" r="5.6" fill="#000"/>
<circle cx="1287.5" cy="766.7" r="5.6" fill="#000"/>
<circle cx="1307.3" cy="768.7" r="5.6" fill="#000"/>
<circle cx="1327.4" cy="770.0" r="5.6" fill="#000"/>
<circle cx="1347.3" cy="771.3" r="5.6" fill="#000"/>
<circle cx="1357.8" cy="772.6" r="5.6" fill="#000"/>
<rect x="1262.3" y="751.7" width="10.8" height="10.8" rx="2.2" fill="#000"/>
<rect x="1282.1" y="761.3" width="10.8" height="10.8" rx="2.2" fill="#000"/>
<rect x="1301.9" y="763.3" width="10.8" height="10.8" rx="2.2" fill="#000"/>
<rect x="1322.0" y="764.6" width="10.8" height="10.8" rx="2.2" fill="#000"/>
<rect x="1341.9" y="765.9" width="10.8" height="10.8" rx="2.2" fill="#000"/>
<line x1="1007.2" y1="503.5" x2="1007.2" y2="781.9" stroke="#000" stroke-width="2.8" stroke-linecap="butt"/>
<line x1="999.2" y1="504.9" x2="1007.2" y2="504.9" stroke="#000" stroke-width="2.8" stroke-linecap="butt"/>
<text transform="translate(996.2 512.1999999999999) scale(1 1.045)" font-size="20.5" font-weight="bold" text-anchor="end">0.5</text>
<line x1="999.2" y1="560.3" x2="1007.2" y2="560.3" stroke="#000" stroke-width="2.8" stroke-linecap="butt"/>
<text transform="translate(996.2 567.5999999999999) scale(1 1.045)" font-size="20.5" font-weight="bold" text-anchor="end">0.4</text>
<line x1="999.2" y1="615.4" x2="1007.2" y2="615.4" stroke="#000" stroke-width="2.8" stroke-linecap="butt"/>
<text transform="translate(996.2 622.6999999999999) scale(1 1.045)" font-size="20.5" font-weight="bold" text-anchor="end">0.3</text>
<line x1="999.2" y1="670" x2="1007.2" y2="670" stroke="#000" stroke-width="2.8" stroke-linecap="butt"/>
<text transform="translate(996.2 677.3) scale(1 1.045)" font-size="20.5" font-weight="bold" text-anchor="end">0.2</text>
<line x1="999.2" y1="725.5" x2="1007.2" y2="725.5" stroke="#000" stroke-width="2.8" stroke-linecap="butt"/>
<text transform="translate(996.2 732.8) scale(1 1.045)" font-size="20.5" font-weight="bold" text-anchor="end">0.1</text>
<line x1="999.2" y1="780.5" x2="1007.2" y2="780.5" stroke="#000" stroke-width="2.8" stroke-linecap="butt"/>
<text transform="translate(996.2 787.8) scale(1 1.045)" font-size="20.5" font-weight="bold" text-anchor="end">0.0</text>
<line x1="1005.6" y1="780.5" x2="1421.2" y2="780.5" stroke="#000" stroke-width="2.8" stroke-linecap="butt"/>
<line x1="1007.0" y1="780.5" x2="1007.0" y2="789.0" stroke="#000" stroke-width="2.8" stroke-linecap="butt"/>
<text transform="translate(1007.0 812.0) scale(1 1.045)" font-size="20.5" font-weight="bold" text-anchor="middle">0</text>
<line x1="1110.2" y1="780.5" x2="1110.2" y2="789.0" stroke="#000" stroke-width="2.8" stroke-linecap="butt"/>
<text transform="translate(1110.2 812.0) scale(1 1.045)" font-size="20.5" font-weight="bold" text-anchor="middle">50</text>
<line x1="1213.4" y1="780.5" x2="1213.4" y2="789.0" stroke="#000" stroke-width="2.8" stroke-linecap="butt"/>
<text transform="translate(1213.4 812.0) scale(1 1.045)" font-size="20.5" font-weight="bold" text-anchor="middle">100</text>
<line x1="1316.6" y1="780.5" x2="1316.6" y2="789.0" stroke="#000" stroke-width="2.8" stroke-linecap="butt"/>
<text transform="translate(1316.6 812.0) scale(1 1.045)" font-size="20.5" font-weight="bold" text-anchor="middle">150</text>
<line x1="1419.8" y1="780.5" x2="1419.8" y2="789.0" stroke="#000" stroke-width="2.8" stroke-linecap="butt"/>
<text transform="translate(1419.8 812.0) scale(1 1.045)" font-size="20.5" font-weight="bold" text-anchor="middle">200</text>
<text transform="translate(1213.5 848.7) scale(1 1.035)" font-size="26.3" font-weight="bold" text-anchor="middle">Cycle length (ms)</text>
<text transform="translate(955.5 755) rotate(-90) scale(1 1.035)" font-size="26.5" font-weight="bold" text-anchor="start">Ca alternans ratio</text>
<text transform="translate(1279 484.3) scale(1 1.035)" font-size="27.5" text-anchor="start">Baseline</text>
<text transform="translate(1279 600.2) scale(1 1.045)" font-size="27.5" text-anchor="start">SNS</text>
<line x1="1396.2" y1="719.8" x2="1473" y2="719.8" stroke="#000" stroke-width="3.6" stroke-linecap="butt"/>
<text transform="translate(1435.3 746.2) scale(1 1.035)" font-size="23.6" text-anchor="middle">360ms</text>
<path d="M1281.9,177.6 1282.7,178.8 1283.4,181.0 1284.2,183.0 1285.0,184.8 1285.8,186.6 1286.5,188.0 1287.3,188.7 1288.1,186.5 1288.9,179.3 1289.6,167.6 1290.4,154.8 1291.2,142.7 1291.9,132.3 1292.7,124.7 1293.5,120.4 1294.3,118.9 1295.0,118.9 1295.8,119.3 1296.5,119.8 1297.3,120.6 1298.0,121.5 1298.8,122.7 1299.5,124.0 1300.3,125.6 1301.0,127.3 1301.8,129.2 1302.5,131.3 1303.3,133.7 1304.0,136.2 1304.8,138.9 1305.5,141.8 1306.3,144.9 1307.0,148.2 1307.8,151.7 1308.5,155.4 1309.3,159.3 1310.0,163.4 1310.8,167.7 1311.5,172.1 1312.3,176.8 1313.0,181.7 1313.8,185.2 1314.6,185.6 1315.3,179.3 1316.1,167.1 1316.9,152.9 1317.6,139.9 1318.4,129.9 1319.2,124.1 1320.0,122.1 1320.7,122.1 1321.5,122.5 1322.2,123.1 1323.0,124.0 1323.7,125.2 1324.5,126.5 1325.2,128.1 1326.0,129.9 1326.7,132.0 1327.5,134.3 1328.2,136.8 1329.0,139.5 1329.7,142.5 1330.5,145.7 1331.2,149.2 1332.0,152.9 1332.7,156.8 1333.5,160.9 1334.2,165.3 1335.0,169.9 1335.7,174.8 1336.5,179.9 1337.2,184.9 1338.0,188.0 1338.7,188.5 1339.5,185.3 1340.2,177.8 1341.0,167.5 1341.7,156.6 1342.5,146.0 1343.2,136.5 1344.0,128.7 1344.7,123.1 1345.5,119.9 1346.3,118.9 1347.0,118.9 1347.8,119.3 1348.5,119.9 1349.3,120.7 1350.0,121.7 1350.8,122.9 1351.5,124.3 1352.3,125.9 1353.0,127.7 1353.8,129.7 1354.5,131.9 1355.3,134.3 1356.0,137.0 1356.8,139.8 1357.5,142.8 1358.3,146.1 1359.0,149.5 1359.8,153.2 1360.5,157.0 1361.3,161.1 1362.0,165.4 1362.8,169.9 1363.5,174.5 1364.3,179.4 1365.0,183.7 1365.8,185.9 1366.6,183.2 1367.4,175.1 1368.1,162.7 1368.9,149.8 1369.7,138.0 1370.5,128.7 1371.2,122.8 1372.0,120.3 1372.8,120.0 1373.5,120.3 1374.2,120.9 1375.0,121.7 1375.8,122.8 1376.5,124.1 1377.2,125.7 1378.0,127.4 1378.8,129.4 1379.5,131.7 1380.2,134.2 1381.0,136.9 1381.8,139.9 1382.5,143.1 1383.2,146.5 1384.0,150.2 1384.8,154.1 1385.5,158.2 1386.2,162.6 1387.0,167.2 1387.8,172.1 1388.5,177.2 1389.2,182.5 1390.0,186.4 1390.8,187.7 1391.5,183.9 1392.2,174.8 1393.0,162.3 1393.8,149.4 1394.5,137.7 1395.2,128.0 1396.0,121.4 1396.8,118.1 1397.5,117.3 1398.3,117.5 1399.0,117.9 1399.8,118.5 1400.5,119.2 1401.3,120.2 1402.0,121.3 1402.8,122.6 1403.5,124.1 1404.3,125.8 1405.0,127.6 1405.8,129.7 1406.5,131.9 1407.3,134.3 1408.1,136.9 1408.8,139.7 1409.6,142.6 1410.3,145.8 1411.1,149.1 1411.8,152.6 1412.6,156.3 1413.3,160.2 1414.1,164.2 1414.8,168.4 1415.6,172.9 1416.3,177.5 1417.1,182.0 1417.9,184.8 1418.6,182.4 1419.4,173.0 1420.2,158.3 1421.0,143.4 1421.7,131.0 1422.5,122.9 1423.3,119.4 1424.1,118.9 1424.8,119.2 1425.6,119.8 1426.3,120.6 1427.1,121.6 1427.8,122.8 1428.6,124.3 1429.4,126.0 1430.1,127.9 1430.9,130.1 1431.6,132.4 1432.4,135.0 1433.2,137.9 1433.9,140.9 1434.7,144.2 1435.4,147.7 1436.2,151.4 1436.9,155.4 1437.7,159.6 1438.5,164.0 1439.2,168.6 1440.0,173.5 1440.7,178.6 1441.5,183.6 1442.2,186.7 1443.0,186.5 1443.8,180.9 1444.5,170.1 1445.2,157.1 1446.0,144.3 1446.8,133.1 1447.5,124.3 1448.2,118.7 1449.0,116.4 1449.8,116.0 1450.5,116.3 1451.2,116.7 1452.0,117.4 1452.8,118.2 1453.5,119.2 1454.2,120.3 1455.0,121.7 1455.8,123.2 1456.5,124.9 1457.2,126.8 1458.0,128.8 1458.8,131.1 1459.5,133.5 1460.2,136.1 1461.0,138.8 1461.8,141.8 1462.5,144.9 1463.2,148.2 1464.0,151.7 1464.8,155.4 1465.5,157.3 1465.5,157.3" fill="none" stroke="#000" stroke-width="1.5" stroke-linejoin="round"/>
<path d="M1283.2,294.2 1284.0,294.3 1284.7,294.5 1285.5,294.6 1286.3,294.2 1287.0,290.3 1287.8,281.5 1288.6,270.3 1289.4,259.2 1290.1,249.5 1290.9,242.2 1291.7,238.1 1292.5,236.7 1293.2,236.8 1294.0,237.4 1294.7,238.2 1295.5,239.3 1296.2,240.7 1297.0,242.4 1297.7,244.4 1298.5,246.6 1299.2,249.2 1300.0,252.1 1300.7,255.2 1301.5,258.7 1302.2,262.4 1303.0,266.4 1303.7,270.7 1304.5,275.3 1305.2,280.2 1306.0,285.4 1306.7,290.6 1307.5,293.8 1308.2,294.7 1309.0,294.7 1309.7,294.7 1310.5,294.7 1311.2,294.7 1312.0,294.6 1312.8,292.0 1313.5,284.8 1314.2,273.7 1315.0,262.2 1315.8,251.8 1316.5,243.5 1317.2,238.2 1318.0,235.9 1318.8,235.7 1319.5,236.1 1320.2,236.9 1321.0,237.9 1321.8,239.2 1322.5,240.7 1323.2,242.6 1324.0,244.8 1324.8,247.2 1325.5,250.0 1326.2,253.0 1327.0,256.3 1327.8,259.9 1328.5,263.8 1329.2,268.0 1330.0,272.4 1330.8,277.2 1331.5,282.2 1332.2,287.5 1333.0,292.2 1333.8,294.5 1334.5,294.7 1335.2,294.7 1336.0,294.7 1336.8,294.7 1337.5,294.7 1338.3,294.2 1339.0,290.2 1339.8,281.4 1340.6,270.1 1341.4,258.9 1342.1,249.1 1342.9,241.8 1343.7,237.6 1344.5,236.2 1345.2,236.3 1346.0,236.9 1346.7,237.7 1347.5,238.8 1348.2,240.2 1349.0,241.9 1349.7,243.9 1350.5,246.2 1351.2,248.8 1352.0,251.7 1352.7,254.9 1353.5,258.3 1354.2,262.1 1355.0,266.2 1355.7,270.5 1356.5,275.1 1357.2,280.1 1358.0,285.3 1358.7,290.5 1359.5,293.8 1360.2,294.7 1361.0,294.7 1361.7,294.7 1362.5,294.7 1363.2,294.7 1364.0,294.6 1364.8,292.1 1365.5,284.9 1366.2,273.9 1367.0,262.5 1367.8,252.1 1368.5,243.9 1369.2,238.6 1370.0,236.4 1370.8,236.2 1371.5,236.6 1372.2,237.3 1373.0,238.3 1373.8,239.6 1374.5,241.2 1375.2,243.1 1376.0,245.2 1376.8,247.6 1377.5,250.3 1378.2,253.3 1379.0,256.6 1379.8,260.2 1380.5,264.0 1381.2,268.2 1382.0,272.6 1382.8,277.3 1383.5,282.3 1384.2,287.6 1385.0,292.2 1385.8,294.5 1386.5,294.7 1387.2,294.7 1388.0,294.7 1388.8,294.7 1389.5,294.7 1390.3,293.9 1391.0,288.8 1391.8,278.4 1392.6,265.9 1393.4,254.1 1394.2,244.5 1394.9,238.3 1395.7,235.7 1396.5,235.4 1397.2,235.8 1398.0,236.5 1398.7,237.5 1399.5,238.8 1400.2,240.3 1401.0,242.2 1401.7,244.3 1402.5,246.7 1403.2,249.4 1404.0,252.3 1404.7,255.6 1405.5,259.1 1406.2,262.9 1407.0,267.0 1407.7,271.4 1408.5,276.0 1409.2,281.0 1410.0,286.2 1410.7,291.2 1411.5,294.1 1412.2,294.7 1413.0,294.7 1413.7,294.7 1414.5,294.7 1415.2,294.7 1416.0,294.7 1416.8,292.5 1417.5,285.8 1418.3,275.4 1419.0,264.3 1419.8,253.9 1420.5,245.4 1421.3,239.5 1422.0,236.5 1422.8,235.9 1423.6,236.2 1424.3,236.8 1425.1,237.7 1425.8,238.9 1426.6,240.4 1427.4,242.1 1428.1,244.2 1428.9,246.5 1429.6,249.2 1430.4,252.1 1431.1,255.3 1431.9,258.8 1432.7,262.6 1433.4,266.6 1434.2,271.0 1434.9,275.6 1435.7,280.5 1436.4,285.7 1437.2,290.9 1438.0,294.0 1438.7,294.7 1439.5,294.7 1440.2,294.7 1441.0,294.7 1441.7,294.7 1442.5,294.5 1443.2,291.0 1444.0,282.1 1444.8,269.6 1445.5,257.2 1446.2,246.6 1447.0,239.0 1447.8,235.3 1448.5,234.4 1449.2,234.6 1450.0,235.2 1450.8,236.0 1451.5,237.1 1452.2,238.5 1453.0,240.1 1453.8,242.0 1454.5,244.1 1455.2,246.6 1456.0,249.2 1456.8,252.2 1457.5,255.4 1458.2,258.8 1459.0,262.6 1459.8,266.5 1460.5,270.8 1461.2,275.3 1462.0,280.1 1462.8,285.1 1463.5,290.2 1464.2,293.2 1465.0,294.0 1465.8,294.0 1466.0,294.0" fill="none" stroke="#ff2a2a" stroke-width="1.3" stroke-linejoin="round"/>
<path d="M1281.9,569.1 1282.7,570.2 1283.4,572.1 1284.2,573.7 1285.0,575.2 1285.8,576.1 1286.5,576.1 1287.2,573.1 1288.0,565.6 1288.8,554.6 1289.5,542.4 1290.2,530.1 1291.0,518.7 1291.8,508.9 1292.5,501.4 1293.2,496.6 1294.0,494.7 1294.8,494.7 1295.5,495.4 1296.2,496.6 1297.0,498.2 1297.8,500.3 1298.5,502.7 1299.2,505.4 1300.0,508.4 1300.8,511.7 1301.5,515.2 1302.2,518.9 1303.0,522.8 1303.8,526.7 1304.5,530.7 1305.2,534.7 1306.0,538.6 1306.8,542.4 1307.5,546.2 1308.2,549.8 1309.0,553.2 1309.8,556.4 1310.5,559.4 1311.2,562.1 1312.0,564.0 1312.8,564.7 1313.5,564.2 1314.3,561.6 1315.0,556.6 1315.8,550.2 1316.5,543.4 1317.3,536.5 1318.1,530.0 1318.8,524.3 1319.6,519.6 1320.3,516.3 1321.1,514.4 1321.9,513.9 1322.6,514.4 1323.4,515.5 1324.1,517.1 1324.9,519.1 1325.7,521.7 1326.4,524.6 1327.2,527.9 1327.9,531.4 1328.7,535.3 1329.4,539.2 1330.2,543.3 1331.0,547.5 1331.7,551.6 1332.5,555.6 1333.2,559.6 1334.0,563.3 1334.8,566.9 1335.5,570.2 1336.3,573.2 1337.0,575.5 1337.8,576.7 1338.5,576.5 1339.3,573.5 1340.0,566.5 1340.8,556.5 1341.5,545.4 1342.3,533.9 1343.0,522.9 1343.8,513.0 1344.5,504.6 1345.3,498.3 1346.0,494.4 1346.8,492.9 1347.6,492.9 1348.3,493.7 1349.1,494.9 1349.8,496.6 1350.6,498.8 1351.3,501.3 1352.1,504.1 1352.8,507.3 1353.6,510.7 1354.3,514.4 1355.1,518.2 1355.9,522.2 1356.6,526.2 1357.4,530.3 1358.1,534.4 1358.9,538.4 1359.6,542.3 1360.4,546.0 1361.1,549.6 1361.9,553.0 1362.6,556.2 1363.4,559.1 1364.1,561.4 1364.9,562.5 1365.7,562.3 1366.4,560.1 1367.2,555.2 1367.9,548.7 1368.7,541.5 1369.4,534.3 1370.2,527.6 1370.9,521.7 1371.7,517.0 1372.4,513.9 1373.2,512.4 1373.9,512.2 1374.7,512.8 1375.4,513.9 1376.2,515.4 1376.9,517.4 1377.7,519.8 1378.4,522.5 1379.2,525.5 1379.9,528.8 1380.7,532.3 1381.4,536.0 1382.2,539.8 1382.9,543.6 1383.7,547.5 1384.4,551.3 1385.2,555.0 1385.9,558.6 1386.7,562.1 1387.4,565.3 1388.2,568.4 1388.9,571.1 1389.7,573.3 1390.4,574.4 1391.2,573.7 1391.9,569.3 1392.7,560.3 1393.4,548.7 1394.2,536.3 1394.9,524.1 1395.7,513.0 1396.4,503.8 1397.2,497.2 1397.9,493.4 1398.7,492.3 1399.4,492.6 1400.2,493.5 1400.9,494.9 1401.7,496.6 1402.4,498.8 1403.2,501.4 1403.9,504.2 1404.7,507.4 1405.4,510.8 1406.2,514.5 1406.9,518.3 1407.7,522.2 1408.4,526.2 1409.2,530.2 1409.9,534.3 1410.7,538.2 1411.4,542.1 1412.2,545.9 1412.9,549.4 1413.7,552.8 1414.4,556.0 1415.2,559.0 1415.9,561.6 1416.7,563.0 1417.4,563.3 1418.2,561.9 1418.9,557.8 1419.7,551.6 1420.4,544.4 1421.2,537.1 1421.9,530.0 1422.7,523.7 1423.4,518.5 1424.2,514.8 1424.9,512.7 1425.7,512.1 1426.4,512.5 1427.2,513.4 1427.9,514.9 1428.7,516.7 1429.4,518.9 1430.2,521.5 1430.9,524.5 1431.7,527.7 1432.4,531.2 1433.2,534.8 1433.9,538.6 1434.7,542.5 1435.4,546.4 1436.2,550.3 1436.9,554.1 1437.7,557.8 1438.4,561.4 1439.2,564.9 1439.9,568.1 1440.7,571.0 1441.4,573.8 1442.2,575.6 1443.0,576.3 1443.7,575.0 1444.5,570.1 1445.2,560.9 1446.0,549.8 1446.7,538.1 1447.5,526.5 1448.2,515.9 1449.0,507.0 1449.7,500.1 1450.5,495.9 1451.2,494.2 1452.0,494.2 1452.7,495.0 1453.5,496.3 1454.2,498.1 1455.0,500.2 1455.8,502.8 1456.5,505.7 1457.3,509.0 1458.0,512.4 1458.8,516.1 1459.6,520.0 1460.3,523.9 1461.1,527.9 1461.8,531.9 1462.6,535.8 1463.4,539.7 1464.1,543.4 1464.9,546.9 1465.6,549.1 1465.9,549.7" fill="none" stroke="#000" stroke-width="1.5" stroke-linejoin="round"/>
<path d="M1282.4,704.3 1283.3,704.3 1284.0,704.0 1284.8,699.9 1285.5,690.1 1286.3,676.2 1287.1,661.0 1287.8,645.8 1288.6,631.9 1289.4,620.3 1290.1,611.8 1290.9,607.0 1291.7,605.5 1292.4,606.0 1293.2,607.1 1293.9,608.9 1294.7,611.2 1295.4,614.1 1296.2,617.4 1296.9,621.1 1297.7,625.2 1298.4,629.7 1299.2,634.4 1299.9,639.3 1300.7,644.4 1301.4,649.6 1302.2,654.8 1302.9,660.1 1303.7,665.2 1304.4,670.3 1305.2,675.1 1305.9,679.8 1306.7,684.2 1307.4,688.3 1308.2,692.2 1308.9,695.5 1309.7,697.4 1310.4,697.7 1311.2,694.6 1311.9,686.9 1312.7,675.7 1313.4,663.1 1314.2,650.5 1315.0,638.7 1315.7,628.7 1316.5,620.9 1317.2,616.1 1318.0,614.2 1318.8,614.2 1319.5,615.2 1320.3,616.9 1321.0,619.1 1321.8,621.8 1322.6,625.1 1323.3,628.8 1324.1,632.9 1324.8,637.4 1325.6,642.1 1326.3,647.1 1327.1,652.3 1327.9,657.5 1328.6,662.8 1329.4,668.1 1330.1,673.3 1330.9,678.4 1331.7,683.3 1332.4,687.9 1333.2,692.3 1333.9,696.4 1334.7,700.2 1335.4,703.2 1336.2,704.6 1337.0,703.4 1337.7,696.9 1338.5,684.3 1339.2,668.9 1340.0,652.8 1340.8,637.5 1341.5,624.1 1342.3,613.8 1343.0,607.3 1343.8,604.7 1344.6,604.6 1345.3,605.6 1346.1,607.1 1346.8,609.2 1347.6,611.9 1348.3,615.0 1349.1,618.6 1349.8,622.6 1350.6,626.9 1351.4,631.5 1352.1,636.3 1352.9,641.4 1353.6,646.6 1354.4,651.8 1355.1,657.1 1355.9,662.3 1356.7,667.4 1357.4,672.4 1358.2,677.2 1358.9,681.8 1359.7,686.1 1360.4,690.1 1361.2,693.9 1361.9,696.8 1362.7,698.2 1363.5,697.9 1364.2,694.2 1365.0,686.0 1365.7,674.9 1366.5,662.9 1367.3,650.7 1368.0,639.3 1368.8,629.4 1369.5,621.6 1370.3,616.2 1371.0,613.7 1371.8,613.3 1372.6,614.1 1373.3,615.6 1374.1,617.8 1374.8,620.5 1375.6,623.8 1376.4,627.6 1377.1,631.8 1377.9,636.4 1378.6,641.4 1379.4,646.5 1380.2,651.9 1380.9,657.3 1381.7,662.8 1382.4,668.3 1383.2,673.7 1383.9,678.9 1384.7,684.0 1385.5,688.8 1386.2,693.2 1387.0,697.4 1387.7,701.3 1388.5,703.8 1389.3,704.8 1390.0,703.3 1390.8,697.2 1391.5,686.0 1392.3,672.4 1393.0,658.0 1393.8,643.9 1394.6,631.0 1395.3,620.0 1396.1,611.7 1396.8,606.5 1397.6,604.4 1398.4,604.4 1399.1,605.5 1399.9,607.3 1400.6,609.6 1401.4,612.6 1402.1,616.0 1402.9,620.0 1403.7,624.4 1404.4,629.1 1405.2,634.1 1405.9,639.4 1406.7,644.9 1407.4,650.4 1408.2,656.0 1408.9,661.5 1409.7,667.0 1410.5,672.3 1411.2,677.3 1412.0,682.2 1412.7,686.7 1413.5,690.9 1414.2,694.8 1415.0,697.4 1415.8,698.4 1416.5,697.1 1417.3,691.9 1418.1,682.5 1418.8,671.0 1419.6,658.8 1420.4,646.8 1421.1,635.8 1421.9,626.5 1422.7,619.5 1423.4,615.1 1424.2,613.3 1425.0,613.4 1425.7,614.4 1426.5,616.0 1427.2,618.2 1428.0,620.9 1428.7,624.1 1429.5,627.8 1430.2,631.8 1431.0,636.3 1431.7,641.0 1432.5,645.9 1433.2,651.0 1434.0,656.2 1434.7,661.5 1435.5,666.8 1436.2,672.0 1437.0,677.1 1437.7,682.0 1438.5,686.7 1439.2,691.2 1440.0,695.3 1440.7,699.2 1441.5,702.6 1442.3,704.5 1443.0,704.9 1443.8,702.1 1444.6,694.3 1445.3,682.3 1446.1,668.5 1446.9,654.4 1447.6,640.8 1448.4,628.6 1449.2,618.7 1449.9,611.5 1450.7,607.4 1451.5,606.2 1452.2,606.7 1453.0,607.9 1453.7,609.6 1454.5,612.0 1455.2,614.8 1456.0,618.2 1456.8,621.9 1457.5,626.1 1458.3,630.5 1459.0,635.3 1459.8,640.2 1460.6,645.3 1461.3,650.4 1462.1,655.6 1462.8,660.8 1463.6,665.9 1464.3,670.8 1465.1,675.5 1465.9,680.1 1466.6,684.3 1467.4,688.3 1468.1,691.9 1468.9,695.2 1469.6,697.3 1469.9,697.8" fill="none" stroke="#ff2a2a" stroke-width="1.3" stroke-linejoin="round"/>
</svg>
</body>
</html>
